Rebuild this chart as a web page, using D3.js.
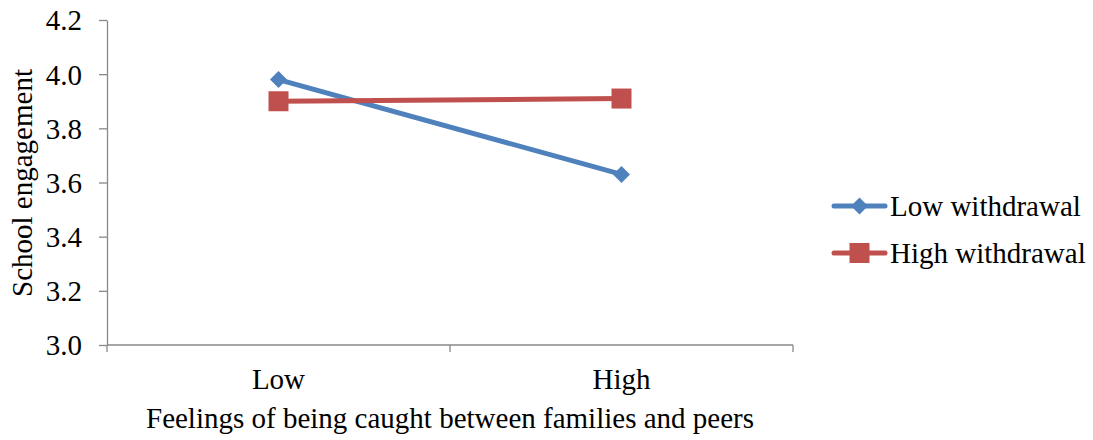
<!DOCTYPE html>
<html>
<head>
<meta charset="utf-8">
<script src="https://cdn.jsdelivr.net/npm/d3@7"></script>
<style>
  body { margin: 0; background: #fff; }
  svg text { font-family: "Liberation Serif", "Times New Roman", serif; fill: #000; }
</style>
</head>
<body>
<svg id="chart" width="1093" height="440"></svg>
<script>
// Interaction plot: school engagement by feelings of being caught between families and peers
const categories = ["Low", "High"];
const lowWithdrawal = [3.98, 3.63];
const highWithdrawal = [3.90, 3.91];
const yTicks = [3.0, 3.2, 3.4, 3.6, 3.8, 4.0, 4.2];
const seriesNames = ["Low withdrawal", "High withdrawal"];
const seriesColors = ["#4F81BD", "#C0504D"];

const series = [
  { name: seriesNames[0], values: lowWithdrawal, color: seriesColors[0], marker: "diamond" },
  { name: seriesNames[1], values: highWithdrawal, color: seriesColors[1], marker: "square" }
];

const FS = 29;
const svg = d3.select("#chart");
const plot = { left: 107, right: 793, top: 20, bottom: 345 };

const x = d3.scaleBand().domain(categories).range([plot.left, plot.right]);
const y = d3.scaleLinear().domain([3.0, 4.2]).range([plot.bottom, plot.top]);
const axisColor = "#898989";

// Y axis
const yAxis = svg.append("g")
  .attr("transform", `translate(${plot.left},0)`)
  .call(d3.axisLeft(y).tickValues(yTicks).tickFormat(d3.format(".1f")).tickSize(8).tickSizeOuter(0));
yAxis.attr("font-size", null).attr("font-family", null);
yAxis.select(".domain").attr("stroke", axisColor).attr("stroke-width", 1.3);
yAxis.selectAll(".tick line").attr("stroke", axisColor).attr("stroke-width", 1.3);
yAxis.selectAll(".tick text")
  .attr("x", -25).attr("dy", "0.34em")
  .style("font-size", FS + "px")
  .attr("fill", "#000");

// X axis with boundary ticks between categories
const xg = svg.append("g");
xg.append("line")
  .attr("x1", plot.left).attr("x2", plot.right)
  .attr("y1", y(3.0)).attr("y2", y(3.0))
  .attr("stroke", axisColor).attr("stroke-width", 1.3);
const boundaries = [plot.left, ...categories.map(c => x(c) + x.bandwidth())];
xg.selectAll(".xb").data(boundaries).enter().append("line")
  .attr("x1", d => d).attr("x2", d => d)
  .attr("y1", y(3.0)).attr("y2", y(3.0) + 7)
  .attr("stroke", axisColor).attr("stroke-width", 1.3);
xg.selectAll(".xl").data(categories).enter().append("text")
  .attr("x", d => x(d) + x.bandwidth() / 2)
  .attr("y", 389)
  .attr("text-anchor", "middle")
  .style("font-size", FS + "px")
  .text(d => d);

// Axis titles
svg.append("text")
  .attr("x", 450).attr("y", 428)
  .attr("text-anchor", "middle")
  .style("font-size", FS + "px")
  .text("Feelings of being caught between families and peers");
svg.append("text")
  .attr("transform", `translate(32,${183}) rotate(-90)`)
  .attr("text-anchor", "middle")
  .style("font-size", FS + "px")
  .text("School engagement");

// Lines and markers
const line = d3.line()
  .x((d, i) => x(categories[i]) + x.bandwidth() / 2)
  .y(d => y(d));

function drawMarker(g, type, cx, cy, color) {
  if (type === "diamond") {
    const s = 8.5;
    g.append("path")
      .attr("d", `M${cx},${cy - s}L${cx + s},${cy}L${cx},${cy + s}L${cx - s},${cy}Z`)
      .attr("fill", color);
  } else {
    const s = 10;
    g.append("rect")
      .attr("x", cx - s).attr("y", cy - s)
      .attr("width", 2 * s).attr("height", 2 * s)
      .attr("fill", color);
  }
}

series.forEach(s => {
  const g = svg.append("g");
  g.append("path")
    .datum(s.values)
    .attr("d", line)
    .attr("fill", "none")
    .attr("stroke", s.color)
    .attr("stroke-width", 5)
    .attr("stroke-linecap", "round");
  s.values.forEach((v, i) => {
    drawMarker(g, s.marker, x(categories[i]) + x.bandwidth() / 2, y(v), s.color);
  });
});

// Legend
const legend = svg.append("g");
series.forEach((s, i) => {
  const ly = 206 + i * 47;
  legend.append("line")
    .attr("x1", 834).attr("x2", 885)
    .attr("y1", ly).attr("y2", ly)
    .attr("stroke", s.color).attr("stroke-width", 5)
    .attr("stroke-linecap", "round");
  drawMarker(legend, s.marker, 859.5, ly, s.color);
  legend.append("text")
    .attr("x", 890).attr("y", ly + 10)
    .style("font-size", FS + "px")
    .text(s.name);
});
</script>
</body>
</html>
